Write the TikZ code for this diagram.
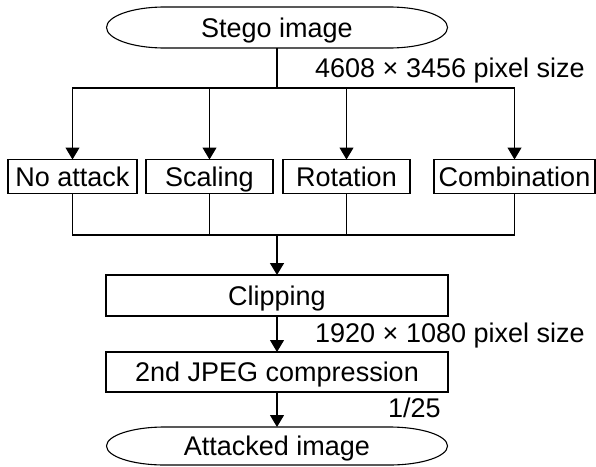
\documentclass[tikz,border=0pt]{standalone}
\usepackage{fontspec}
\setmainfont{Liberation Sans}
\usepackage{tikz}
\usetikzlibrary{positioning,arrows.meta}

% outline of a start/end node: flat top and bottom, half-ellipse ends
\newlength{\termh}
\newcommand{\termoutline}[1]{%
    \draw[line width=1.1pt]
        ([xshift=58pt]#1.north west) -- ([xshift=-58pt]#1.north east)
        arc[start angle=90, end angle=-90, x radius=58pt, y radius=0.5*\termh]
        -- ([xshift=58pt]#1.south west)
        arc[start angle=270, end angle=90, x radius=58pt, y radius=0.5*\termh]
        -- cycle;}

\begin{document}
\begin{tikzpicture}[
    x=1pt, y=1pt,
    font=\fontsize{27pt}{32pt}\selectfont,
    box/.style={
        draw,
        line width=1.1pt,
        outer sep=0pt,
        inner sep=0pt,
        minimum height=34pt,
        text height=19pt,
        text depth=0pt,
        align=center,
    },
    widebox/.style={
        box,
        minimum width=342pt,
        minimum height=41pt,
    },
    terminal/.style={
        outer sep=0pt,
        inner sep=0pt,
        minimum width=341pt,
        text height=19pt,
        text depth=0pt,
    },
    lbl/.style={inner sep=0pt, anchor=base west},
    arrow/.style={-{Triangle[width=14pt,length=12pt]}, line width=1.1pt},
    link/.style={line width=1.1pt},
]
\useasboundingbox (0,0) rectangle (596,-466);

% ----- Start -----
\setlength{\termh}{41pt}
\node[terminal, minimum height=41pt] (stego) at (277,-27.5) {Stego image};
\termoutline{stego}
\coordinate (split) at (277,-88);

% ----- Attack row -----
\node[box, minimum width=129pt] (noatk) at (72.5,-176.5) {No attack};
\node[box, minimum width=127pt, right=9pt of noatk] (scale) {Scaling};
\node[box, minimum width=127pt, right=10pt of scale] (rot) {Rotation};
\node[box, minimum width=161pt, right=24pt of rot] (comb) {Combination};
\coordinate (merge) at (277,-235);

% ----- Lower chain -----
\node[widebox, below=40pt of merge] (clip) {Clipping};
\node[widebox, minimum height=40pt, below=36pt of clip] (jpeg) {2nd JPEG compression};
\setlength{\termh}{38pt}
\node[terminal, minimum height=38pt, below=35pt of jpeg] (attacked) {Attacked image};
\termoutline{attacked}

% ----- Labels -----
\node[lbl] (sizein) at (315,-77) {4608 × 3456 pixel size};
\node[lbl] (sizeout) at (315,-342) {1920 × 1080 pixel size};
\node[lbl] (ratio) at (388,-417) {1/25};

% ----- Arrows -----
\draw[link] (stego.south) -- (split);
\draw[arrow] (split) -| (noatk.north);
\draw[arrow] (split) -| (scale.north);
\draw[arrow] (split) -| (rot.north);
\draw[arrow] (split) -| (comb.north);

\draw[link] (noatk.south) |- (merge);
\draw[link] (scale.south) |- (merge);
\draw[link] (rot.south) |- (merge);
\draw[link] (comb.south) |- (merge);

\draw[arrow, line width=1.5pt] (merge) -- (clip.north);
\draw[arrow] (clip) -- (jpeg);
\draw[arrow] (jpeg) -- (attacked);

\end{tikzpicture}
\end{document}
